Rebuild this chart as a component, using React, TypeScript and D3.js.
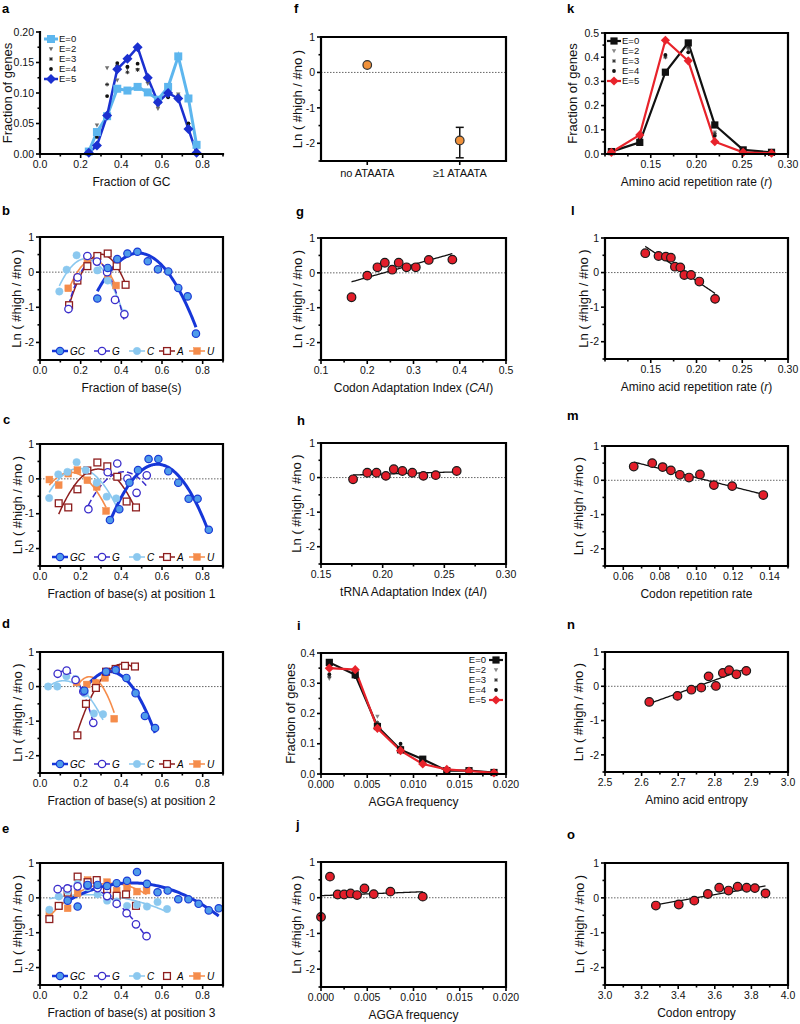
import React from "react";
import * as d3 from "d3";

const FONT = "'Liberation Sans', Arial, Helvetica, sans-serif";

// ---------------- data: panel a ----------------
const aGC = [0.24, 0.28, 0.33, 0.38, 0.43, 0.48, 0.53, 0.58, 0.63, 0.68, 0.73, 0.77];
const aE0 = [0.004, 0.036, 0.062, 0.107, 0.104, 0.11, 0.101, 0.089, 0.11, 0.16, 0.091, 0.015];
const aE2 = [0.006, 0.047, 0.141, 0.121, 0.14, 0.138, 0.115, 0.074, 0.095, 0.098, 0.048, 0.004];
const aE3 = [0.004, 0.035, 0.114, 0.145, 0.134, 0.138, 0.12, 0.08, 0.097, 0.095, 0.045, 0.003];
const aE4 = [0.003, 0.028, 0.095, 0.149, 0.143, 0.148, 0.125, 0.085, 0.093, 0.095, 0.05, 0.002];
const aE5 = [0.002, 0.014, 0.063, 0.139, 0.156, 0.175, 0.125, 0.085, 0.1, 0.091, 0.041, 0.002];

// ---------------- data: panel b ----------------
const bGCx = [0.282, 0.333, 0.38, 0.43, 0.479, 0.53, 0.58, 0.631, 0.68, 0.726, 0.767];
const bGCy = [-0.75, 0.12, 0.37, 0.53, 0.58, 0.31, 0.08, 0.02, -0.45, -0.69, -1.75];
const bGx = [0.14, 0.185, 0.233, 0.28, 0.33, 0.369, 0.415];
const bGy = [-1.05, -0.15, 0.46, 0.3, 0.0, -0.79, -1.2];
const bCx = [0.095, 0.131, 0.18, 0.233, 0.282, 0.333, 0.415];
const bCy = [-0.55, 0.07, 0.48, 0.45, 0.05, -0.24, -1.17];
const bAx = [0.143, 0.184, 0.233, 0.282, 0.333, 0.377, 0.421];
const bAy = [-0.94, -0.24, 0.17, 0.46, 0.53, 0.17, -0.36];
const bUx = [0.139, 0.184, 0.233, 0.282, 0.333, 0.374];
const bUy = [-0.46, -0.15, 0.36, 0.43, -0.07, -0.38];

// ---------------- data: panel c ----------------
const cGCx = [0.344, 0.39, 0.44, 0.482, 0.534, 0.582, 0.631, 0.68, 0.731, 0.775, 0.83];
const cGCy = [-1.18, -0.87, -0.11, 0.25, 0.57, 0.57, 0.22, -0.11, -0.57, -0.57, -1.46];
const cGx = [0.238, 0.333, 0.38, 0.43, 0.475, 0.525];
const cGy = [-0.87, 0.19, 0.44, 0.01, -0.4, 0.1];
const cCx = [0.045, 0.09, 0.135, 0.18, 0.225, 0.279, 0.328, 0.375];
const cCy = [-0.55, 0.13, 0.2, 0.48, 0.25, -0.11, -0.51, -0.56];
const cAx = [0.092, 0.139, 0.184, 0.233, 0.282, 0.331, 0.38, 0.426, 0.472];
const cAy = [-0.7, -0.82, -0.3, 0.24, 0.47, 0.36, 0.06, -0.65, -0.82];
const cUx = [0.046, 0.092, 0.139, 0.184, 0.233, 0.279, 0.325];
const cUy = [-0.02, -0.18, 0.15, 0.25, -0.04, -0.23, -0.92];

// ---------------- data: panel d ----------------
const dGCx = [0.218, 0.325, 0.372, 0.425, 0.47, 0.516, 0.566];
const dGCy = [-0.12, 0.43, 0.48, 0.25, -0.19, -0.85, -1.2];
const dGx = [0.087, 0.131, 0.175, 0.213, 0.262];
const dGy = [0.37, 0.46, 0.19, -0.14, -1.05];
const dCx = [0.04, 0.085, 0.13, 0.175, 0.22, 0.265, 0.31];
const dCy = [0.0, 0.0, 0.3, 0.22, -0.2, -0.78, -0.8];
const dAx = [0.184, 0.226, 0.275, 0.325, 0.372, 0.418, 0.467];
const dAy = [-1.41, -0.5, -0.04, 0.43, 0.51, 0.6, 0.58];
const dUx = [0.18, 0.23, 0.275, 0.32, 0.365];
const dUy = [0.12, 0.06, 0.1, 0.25, -0.93];

// ---------------- data: panel e ----------------
const eGCx = [0.136, 0.185, 0.234, 0.283, 0.33, 0.377, 0.428, 0.477, 0.526, 0.578, 0.628, 0.68, 0.73, 0.78, 0.83, 0.879];
const eGCy = [-0.08, -0.25, 0.37, 0.37, 0.34, 0.42, 0.49, 0.74, 0.4, 0.16, 0.21, -0.04, -0.04, -0.17, -0.36, -0.3];
const eGx = [0.087, 0.135, 0.185, 0.234, 0.283, 0.33, 0.377, 0.426, 0.472, 0.524];
const eGy = [0.25, 0.27, 0.33, 0.35, 0.28, 0.05, -0.17, -0.44, -0.76, -1.1];
const eCx = [0.046, 0.092, 0.136, 0.185, 0.234, 0.283, 0.33, 0.377, 0.428, 0.477, 0.526, 0.578, 0.625];
const eCy = [-0.34, 0.04, 0.2, 0.4, 0.3, 0.1, -0.08, -0.1, -0.23, -0.2, -0.25, -0.12, -0.32];
const eAx = [0.046, 0.092, 0.136, 0.185, 0.234, 0.279, 0.33, 0.377, 0.423, 0.472];
const eAy = [-0.61, -0.23, 0.15, 0.61, 0.45, 0.51, 0.25, 0.06, 0.1, -0.23];
const eUx = [0.046, 0.092, 0.136, 0.185, 0.234, 0.279, 0.33, 0.377, 0.428, 0.477, 0.524];
const eUy = [-0.49, -0.23, -0.3, 0.13, 0.51, 0.49, 0.45, 0.21, 0.3, 0.18, 0.21];

// ---------------- data: panel f ----------------
const fCats = ["no ATAATA", "\u22651 ATAATA"];
const fVals = [0.21, -1.92];
const fLow = [0.19, -2.41];
const fHigh = [0.23, -1.55];

// ---------------- data: panels g, h ----------------
const gX = [0.166, 0.2, 0.222, 0.238, 0.254, 0.268, 0.285, 0.305, 0.333, 0.384];
const gY = [-0.7, -0.08, 0.16, 0.29, 0.09, 0.29, 0.16, 0.16, 0.37, 0.38];
const hX = [0.176, 0.1875, 0.195, 0.2026, 0.209, 0.216, 0.224, 0.233, 0.243, 0.26];
const hY = [-0.05, 0.14, 0.14, 0.05, 0.24, 0.19, 0.14, 0.05, 0.07, 0.19];

// ---------------- data: panel i ----------------
const iX = [0.0009, 0.0037, 0.0061, 0.0086, 0.011, 0.0136, 0.016, 0.0187];
const iE0 = [0.369, 0.328, 0.157, 0.08, 0.049, 0.011, 0.011, 0.005];
const iE2 = [0.315, 0.33, 0.19, 0.085, 0.04, 0.01, 0.01, 0.005];
const iE3 = [0.322, 0.33, 0.17, 0.09, 0.045, 0.012, 0.01, 0.005];
const iE4 = [0.33, 0.32, 0.16, 0.1, 0.05, 0.012, 0.01, 0.005];
const iE5 = [0.35, 0.345, 0.151, 0.077, 0.033, 0.015, 0.01, 0.004];

// ---------------- data: panel j ----------------
const jX = [0.0, 0.00097, 0.0018, 0.0025, 0.0032, 0.0039, 0.0047, 0.0057, 0.0075, 0.011];
const jY = [-0.54, 0.59, 0.09, 0.09, 0.12, 0.075, 0.26, 0.1, 0.17, 0.03];

// ---------------- data: panel k ----------------
const kX = [0.107, 0.138, 0.166, 0.191, 0.22, 0.251, 0.282];
const kE0 = [0.01, 0.048, 0.338, 0.459, 0.12, 0.017, 0.007];
const kE2 = [0.008, 0.045, 0.4, 0.43, 0.09, 0.012, 0.005];
const kE3 = [0.007, 0.06, 0.4, 0.44, 0.085, 0.01, 0.005];
const kE4 = [0.007, 0.065, 0.41, 0.42, 0.075, 0.01, 0.005];
const kE5 = [0.007, 0.079, 0.47, 0.385, 0.051, 0.007, 0.003];

// ---------------- data: panels l - o ----------------
const lX = [0.144, 0.1585, 0.1665, 0.172, 0.1764, 0.1823, 0.1867, 0.194, 0.2031, 0.2203];
const lY = [0.56, 0.48, 0.46, 0.43, 0.17, 0.15, -0.07, -0.07, -0.26, -0.76];
const mX = [0.0657, 0.0758, 0.0815, 0.086, 0.0909, 0.0959, 0.1019, 0.1095, 0.1195, 0.1365];
const mY = [0.4, 0.5, 0.385, 0.29, 0.16, 0.08, 0.17, -0.14, -0.17, -0.43];
const nX = [2.621, 2.698, 2.736, 2.763, 2.783, 2.803, 2.822, 2.839, 2.859, 2.886];
const nY = [-0.456, -0.28, -0.1, -0.04, 0.29, 0.01, 0.39, 0.47, 0.35, 0.45];
const oX = [3.278, 3.403, 3.488, 3.562, 3.624, 3.675, 3.725, 3.774, 3.819, 3.877];
const oY = [-0.22, -0.19, -0.08, 0.11, 0.29, 0.21, 0.32, 0.29, 0.28, 0.13];

// ---------------- ticks ----------------
const baseTicks = [0, 0.2, 0.4, 0.6, 0.8];
const baseMinor = [0.1, 0.3, 0.5, 0.7, 0.9];
const aYTicks = [0, 0.05, 0.1, 0.15, 0.2];
const aYMinor = [0.025, 0.075, 0.125, 0.175];
const lnTicks = [-2, -1, 0, 1];
const lnMinor = [-2.5, -1.5, -0.5, 0.5];
const gTicks = [0.1, 0.2, 0.3, 0.4, 0.5];
const gMinor = [0.15, 0.25, 0.35, 0.45];
const hTicks = [0.15, 0.2, 0.25, 0.3];
const hMinor = [0.175, 0.225, 0.275];
const ijTicks = [0, 0.005, 0.01, 0.015, 0.02];
const ijMinor = [0.0025, 0.0075, 0.0125, 0.0175];
const iYTicks = [0, 0.1, 0.2, 0.3, 0.4];
const iYMinor = [0.05, 0.15, 0.25, 0.35];
const kTicks = [0.15, 0.2, 0.25, 0.3];
const kMinor = [0.1, 0.125, 0.175, 0.225, 0.275];
const kYTicks = [0, 0.1, 0.2, 0.3, 0.4, 0.5];
const kYMinor = [0.05, 0.15, 0.25, 0.35, 0.45];
const mTicks = [0.06, 0.08, 0.1, 0.12, 0.14];
const mMinor = [0.05, 0.07, 0.09, 0.11, 0.13, 0.15];
const nTicks = [2.5, 2.6, 2.7, 2.8, 2.9, 3.0];
const nMinor = [2.55, 2.65, 2.75, 2.85, 2.95];
const oTicks = [3.0, 3.2, 3.4, 3.6, 3.8, 4.0];
const oMinor = [3.1, 3.3, 3.5, 3.7, 3.9];
const eLabels = ["E=0", "E=2", "E=3", "E=4", "E=5"];

// ---------------- layout ----------------
const COL_L: [number, number] = [40, 223];
const COL_M: [number, number] = [321, 506];
const COL_R: [number, number] = [605, 788];

const f1 = d3.format(".1f");
const f2 = d3.format(".2f");
const f3 = d3.format(".3f");
const fInt = (v: number) => String(v);

// ---------------- fitting ----------------
function solve3(A: number[][], b: number[]) {
  const M = A.map((r, i) => [...r, b[i]]);
  for (let c = 0; c < 3; c++) {
    let p = c;
    for (let r = c + 1; r < 3; r++) if (Math.abs(M[r][c]) > Math.abs(M[p][c])) p = r;
    [M[c], M[p]] = [M[p], M[c]];
    for (let r = 0; r < 3; r++) {
      if (r === c) continue;
      const f = M[r][c] / M[c][c];
      for (let k = c; k < 4; k++) M[r][k] -= f * M[c][k];
    }
  }
  return [M[0][3] / M[0][0], M[1][3] / M[1][1], M[2][3] / M[2][2]];
}
function quadFit(xs: number[], ys: number[]) {
  const mx = d3.mean(xs) as number;
  const u = xs.map((v) => v - mx);
  const S = [0, 1, 2, 3, 4].map((k) => d3.sum(u, (v) => v ** k));
  const T = [0, 1, 2].map((k) => d3.sum(u.map((v, i) => v ** k * ys[i])));
  const c = solve3(
    [
      [S[0], S[1], S[2]],
      [S[1], S[2], S[3]],
      [S[2], S[3], S[4]],
    ],
    T
  );
  return (x: number) => {
    const v = x - mx;
    return c[0] + c[1] * v + c[2] * v * v;
  };
}
function linFit(xs: number[], ys: number[]) {
  const mx = d3.mean(xs) as number;
  const my = d3.mean(ys) as number;
  const sxy = d3.sum(xs.map((v, i) => (v - mx) * (ys[i] - my)));
  const sxx = d3.sum(xs.map((v) => (v - mx) ** 2));
  const b = sxy / sxx;
  return (x: number) => my + b * (x - mx);
}
function fitPath(fn: (x: number) => number, xs: number[], x: any, y: any) {
  const [lo, hi] = d3.extent(xs) as [number, number];
  const pts = d3.range(81).map((i) => lo + ((hi - lo) * i) / 80);
  return d3.line<number>().x((v) => x(v)).y((v) => y(fn(v)))(pts) || "";
}

// ---------------- markers ----------------
function Mark(p: { shape: string; cx: number; cy: number; s: number; fill: string; stroke?: string; sw?: number }) {
  const { shape, cx, cy, s, fill } = p;
  const stroke = p.stroke || "none";
  const sw = p.sw || 0;
  if (shape === "circle") return <circle cx={cx} cy={cy} r={s} fill={fill} stroke={stroke} strokeWidth={sw} />;
  if (shape === "square")
    return <rect x={cx - s} y={cy - s} width={2 * s} height={2 * s} fill={fill} stroke={stroke} strokeWidth={sw} />;
  if (shape === "diamond")
    return (
      <path
        d={`M${cx},${cy - s}L${cx + s},${cy}L${cx},${cy + s}L${cx - s},${cy}Z`}
        fill={fill}
        stroke={stroke}
        strokeWidth={sw}
      />
    );
  if (shape === "tri")
    return <path d={`M${cx - s},${cy - s * 0.8}L${cx + s},${cy - s * 0.8}L${cx},${cy + s}Z`} fill={fill} />;
  if (shape === "plus")
    return (
      <path
        d={`M${cx - s},${cy}H${cx + s}M${cx},${cy - s}V${cy + s}M${cx - s * 0.7},${cy - s * 0.7}L${cx + s * 0.7},${cy + s * 0.7}M${cx - s * 0.7},${cy + s * 0.7}L${cx + s * 0.7},${cy - s * 0.7}`}
        stroke={fill}
        strokeWidth={0.9}
      />
    );
  return null;
}

// ---------------- panel frame ----------------
type PanelProps = {
  x0: number;
  x1: number;
  y0: number;
  y1: number;
  xDomain?: [number, number];
  yDomain: [number, number];
  xCats?: string[];
  xTicks?: number[];
  xMinor?: number[];
  xFmt?: (v: number) => string;
  yTicks: number[];
  yMinor: number[];
  yFmt: (v: number) => string;
  box?: boolean;
  zero?: boolean;
  xLabel: React.ReactNode;
  yLabel: string;
  yLabelX: number;
  letter: string;
  lx: number;
  ly: number;
  children: (x: any, y: any) => React.ReactNode;
};

function Panel(p: PanelProps) {
  const { x0, x1, y0, y1 } = p;
  const x: any = p.xCats
    ? d3.scalePoint<string>().domain(p.xCats).range([x0, x1]).padding(0.5)
    : d3.scaleLinear().domain(p.xDomain as [number, number]).range([x0, x1]);
  const y = d3.scaleLinear().domain(p.yDomain).range([y1, y0]);
  const axisPath = p.box === false ? `M${x0},${y0}V${y1}H${x1}` : `M${x0},${y1}V${y0}H${x1}V${y1}Z`;
  const xTickVals: any[] = p.xCats ? p.xCats : p.xTicks || [];
  return (
    <g>
      <text x={p.lx} y={p.ly} fontSize={13} fontWeight="bold" fontFamily={FONT}>
        {p.letter}
      </text>
      {p.zero && (
        <line x1={x0} x2={x1} y1={y(0)} y2={y(0)} stroke="#555" strokeWidth={0.9} strokeDasharray="1.5,1.5" />
      )}
      <g>{p.children(x, y)}</g>
      <path d={axisPath} fill="none" stroke="#000" strokeWidth={2.2} strokeLinecap="square" />
      <g stroke="#000" strokeWidth={1.6}>
        {xTickVals.map((t, i) => (
          <line key={"xt" + i} x1={x(t)} x2={x(t)} y1={y1} y2={y1 + 4} />
        ))}
        {(p.xMinor || []).map((t, i) => (
          <line key={"xm" + i} x1={x(t)} x2={x(t)} y1={y1} y2={y1 + 2.5} />
        ))}
        {p.yTicks.map((t, i) => (
          <line key={"yt" + i} x1={x0 - 4} x2={x0} y1={y(t)} y2={y(t)} />
        ))}
        {p.yMinor.map((t, i) => (
          <line key={"ym" + i} x1={x0 - 2.5} x2={x0} y1={y(t)} y2={y(t)} />
        ))}
      </g>
      <g fontFamily={FONT} fill="#111">
        {xTickVals.map((t, i) => (
          <text
            key={"xl" + i}
            x={x(t)}
            y={y1 + (p.xCats ? 16 : 14)}
            fontSize={p.xCats ? 11 : 10.5}
            textAnchor="middle"
          >
            {p.xCats ? t : (p.xFmt as any)(t)}
          </text>
        ))}
        {p.yTicks.map((t, i) => (
          <text key={"yl" + i} x={x0 - 6} y={y(t)} dy="0.35em" fontSize={10.5} textAnchor="end">
            {p.yFmt(t)}
          </text>
        ))}
        <text x={(x0 + x1) / 2} y={y1 + 32} fontSize={12} textAnchor="middle">
          {p.xLabel}
        </text>
        <text
          transform={`translate(${p.yLabelX},${(y0 + y1) / 2}) rotate(-90)`}
          fontSize={13}
          textAnchor="middle"
          dy="0.35em"
        >
          {p.yLabel}
        </text>
      </g>
    </g>
  );
}

// ---------------- nucleotide panels ----------------
const nucStyle: Record<string, any> = {
  GC: { shape: "circle", s: 3.7, fill: "#4E9BEA", stroke: "#1B3BD6", sw: 1.2, line: "#1636D8", lw: 3, dash: null },
  G: { shape: "circle", s: 3.7, fill: "#ffffff", stroke: "#3A2DCB", sw: 1.3, line: "#3A2DCB", lw: 1.5, dash: "6,3" },
  C: { shape: "circle", s: 3.7, fill: "#8BC8EF", stroke: "#8BC8EF", sw: 0.5, line: "#8BC8EF", lw: 1.6, dash: null },
  A: { shape: "square", s: 3.4, fill: "#ffffff", stroke: "#8E1E1E", sw: 1.3, line: "#8E1E1E", lw: 1.5, dash: null },
  U: { shape: "square", s: 3.4, fill: "#F58C4B", stroke: "#F58C4B", sw: 0.5, line: "#F58C4B", lw: 1.6, dash: null },
};
const nucOrder = ["U", "A", "C", "G", "GC"];
const legendOrder = ["GC", "G", "C", "A", "U"];
const legendOffsets = [20, 62, 97, 127, 157];

function NucLayer(props: { x: any; y: any; sets: Record<string, [number[], number[]]>; noCurve?: string[]; y1: number; x0: number }) {
  const { x, y, sets, y1, x0 } = props;
  const noCurve = props.noCurve || [];
  const ly = y1 - 9;
  return (
    <g>
      {nucOrder.map((k) =>
        noCurve.includes(k) ? null : (
          <path
            key={"c" + k}
            d={fitPath(quadFit(sets[k][0], sets[k][1]), sets[k][0], x, y)}
            fill="none"
            stroke={nucStyle[k].line}
            strokeWidth={nucStyle[k].lw}
            strokeDasharray={nucStyle[k].dash || undefined}
          />
        )
      )}
      {nucOrder.map((k) => (
        <g key={"p" + k}>
          {sets[k][0].map((v, i) => (
            <Mark key={i} {...nucStyle[k]} cx={x(v)} cy={y(sets[k][1][i])} />
          ))}
        </g>
      ))}
      {legendOrder.map((k, i) => {
        const cx = x0 + legendOffsets[i];
        const st = nucStyle[k];
        return (
          <g key={"lg" + k}>
            {!noCurve.includes(k) && (
              <line x1={cx - 8} x2={cx + 8} y1={ly} y2={ly} stroke={st.line} strokeWidth={k === "GC" ? 2.5 : 1.5} />
            )}
            <Mark {...st} cx={cx} cy={ly} />
            <text x={cx + 10} y={ly} dy="0.35em" fontSize={10} fontStyle="italic" fontFamily={FONT}>
              {k}
            </text>
          </g>
        );
      })}
    </g>
  );
}

// ---------------- distribution layers ----------------
function DistLayer(props: {
  x: any;
  y: any;
  xs: number[];
  series: number[][];
  styles: any[];
  legend: { x: number; y: number; anchor: "start" | "end" };
}) {
  const { x, y, xs, series, styles, legend } = props;
  const line = (vals: number[]) => d3.line<number>().x((_, i) => x(xs[i])).y((v) => y(v))(vals) || "";
  const drawOrder = [1, 2, 3, 0, 4];
  return (
    <g>
      {drawOrder.map((si) =>
        styles[si].line ? (
          <path key={"l" + si} d={line(series[si])} fill="none" stroke={styles[si].line} strokeWidth={styles[si].lw} />
        ) : null
      )}
      {drawOrder.map((si) => (
        <g key={"m" + si}>
          {series[si].map((v, i) => (
            <Mark key={i} {...styles[si]} cx={x(xs[i])} cy={y(v)} />
          ))}
        </g>
      ))}
      {eLabels.map((lab, i) => {
        const ly = legend.y + i * 10;
        const st = styles[i];
        const mx = legend.anchor === "start" ? legend.x : legend.x + 10;
        const tx = legend.anchor === "start" ? legend.x + 8 : legend.x;
        return (
          <g key={"lg" + i}>
            {st.line && <line x1={mx - 7} x2={mx + 7} y1={ly} y2={ly} stroke={st.line} strokeWidth={st.lw} />}
            <Mark {...st} cx={mx} cy={ly} />
            <text
              x={tx}
              y={ly}
              dy="0.35em"
              fontSize={9.5}
              fontFamily={FONT}
              textAnchor={legend.anchor}
              fill="#111"
            >
              {lab}
            </text>
          </g>
        );
      })}
    </g>
  );
}

const aStyles = [
  { shape: "square", s: 4, fill: "#5DB6EE", line: "#5DB6EE", lw: 3 },
  { shape: "tri", s: 2.2, fill: "#6f6f6f" },
  { shape: "plus", s: 2, fill: "#222" },
  { shape: "circle", s: 1.9, fill: "#111" },
  { shape: "diamond", s: 5, fill: "#1B30D0", line: "#1B30D0", lw: 2.5 },
];
const ikStyles = [
  { shape: "square", s: 3.6, fill: "#111", line: "#111", lw: 2.2 },
  { shape: "tri", s: 2.2, fill: "#888" },
  { shape: "plus", s: 2, fill: "#333" },
  { shape: "circle", s: 1.9, fill: "#111" },
  { shape: "diamond", s: 4.6, fill: "#E8232B", line: "#E8232B", lw: 2.2 },
];

// ---------------- red scatter with linear fit ----------------
function RedScatter(props: { x: any; y: any; xs: number[]; ys: number[] }) {
  const { x, y, xs, ys } = props;
  return (
    <g>
      <path d={fitPath(linFit(xs, ys), xs, x, y)} fill="none" stroke="#111" strokeWidth={1.3} />
      {xs.map((v, i) => (
        <circle key={i} cx={x(v)} cy={y(ys[i])} r={4.3} fill="#E31E2A" stroke="#1a1a1a" strokeWidth={1.2} />
      ))}
    </g>
  );
}

const lnLabel = "Ln ( #high / #no )";

export default function App() {
  const L = COL_L,
    M = COL_M,
    R = COL_R;
  return (
    <svg
      width={800}
      height={1024}
      viewBox="0 0 800 1024"
      style={{ position: "absolute", left: 0, top: 0, background: "#fff" }}
      fontFamily={FONT}
    >
      <rect x={0} y={0} width={800} height={1024} fill="#fff" />

      {/* a */}
      <Panel
        x0={L[0]} x1={L[1]} y0={32} y1={154}
        xDomain={[0, 0.9]} yDomain={[0, 0.2]}
        xTicks={baseTicks} xMinor={baseMinor} xFmt={f1}
        yTicks={aYTicks} yMinor={aYMinor} yFmt={f2}
        box={false}
        xLabel="Fraction of GC" yLabel="Fraction of genes" yLabelX={7}
        letter="a" lx={2} ly={13}
      >
        {(x, y) => (
          <DistLayer
            x={x} y={y} xs={aGC}
            series={[aE0, aE2, aE3, aE4, aE5]}
            styles={aStyles}
            legend={{ x: 51, y: 39, anchor: "start" }}
          />
        )}
      </Panel>

      {/* b */}
      <Panel
        x0={L[0]} x1={L[1]} y0={237} y1={360}
        xDomain={[0, 0.9]} yDomain={[-2.5, 1]}
        xTicks={baseTicks} xMinor={baseMinor} xFmt={f1}
        yTicks={lnTicks} yMinor={lnMinor} yFmt={fInt}
        zero xLabel="Fraction of base(s)" yLabel={lnLabel} yLabelX={16}
        letter="b" lx={2} ly={215}
      >
        {(x, y) => (
          <NucLayer
            x={x} y={y} x0={L[0]} y1={360}
            sets={{ GC: [bGCx, bGCy], G: [bGx, bGy], C: [bCx, bCy], A: [bAx, bAy], U: [bUx, bUy] }}
          />
        )}
      </Panel>

      {/* c */}
      <Panel
        x0={L[0]} x1={L[1]} y0={444} y1={566}
        xDomain={[0, 0.9]} yDomain={[-2.5, 1]}
        xTicks={baseTicks} xMinor={baseMinor} xFmt={f1}
        yTicks={lnTicks} yMinor={lnMinor} yFmt={fInt}
        zero xLabel="Fraction of base(s) at position 1" yLabel={lnLabel} yLabelX={17}
        letter="c" lx={3} ly={424}
      >
        {(x, y) => (
          <NucLayer
            x={x} y={y} x0={L[0]} y1={566}
            sets={{ GC: [cGCx, cGCy], G: [cGx, cGy], C: [cCx, cCy], A: [cAx, cAy], U: [cUx, cUy] }}
          />
        )}
      </Panel>

      {/* d */}
      <Panel
        x0={L[0]} x1={L[1]} y0={652} y1={773}
        xDomain={[0, 0.9]} yDomain={[-2.5, 1]}
        xTicks={baseTicks} xMinor={baseMinor} xFmt={f1}
        yTicks={lnTicks} yMinor={lnMinor} yFmt={fInt}
        zero xLabel="Fraction of base(s) at position 2" yLabel={lnLabel} yLabelX={17}
        letter="d" lx={2} ly={628}
      >
        {(x, y) => (
          <NucLayer
            x={x} y={y} x0={L[0]} y1={773}
            sets={{ GC: [dGCx, dGCy], G: [dGx, dGy], C: [dCx, dCy], A: [dAx, dAy], U: [dUx, dUy] }}
          />
        )}
      </Panel>

      {/* e */}
      <Panel
        x0={L[0]} x1={L[1]} y0={863} y1={985}
        xDomain={[0, 0.9]} yDomain={[-2.5, 1]}
        xTicks={baseTicks} xMinor={baseMinor} xFmt={f1}
        yTicks={lnTicks} yMinor={lnMinor} yFmt={fInt}
        zero xLabel="Fraction of base(s) at position 3" yLabel={lnLabel} yLabelX={17}
        letter="e" lx={2} ly={833}
      >
        {(x, y) => (
          <NucLayer
            x={x} y={y} x0={L[0]} y1={985} noCurve={["A"]}
            sets={{ GC: [eGCx, eGCy], G: [eGx, eGy], C: [eCx, eCy], A: [eAx, eAy], U: [eUx, eUy] }}
          />
        )}
      </Panel>

      {/* f */}
      <Panel
        x0={M[0]} x1={M[1]} y0={37} y1={161}
        xCats={fCats} yDomain={[-2.5, 1]}
        yTicks={lnTicks} yMinor={lnMinor} yFmt={fInt}
        zero xLabel="" yLabel={lnLabel} yLabelX={297}
        letter="f" lx={294} ly={13}
      >
        {(x, y) => (
          <g>
            {fCats.map((c, i) => (
              <g key={c} stroke="#111" strokeWidth={1.5}>
                <line x1={x(c)} x2={x(c)} y1={y(fLow[i])} y2={y(fHigh[i])} />
                <line x1={x(c) - 4} x2={x(c) + 4} y1={y(fLow[i])} y2={y(fLow[i])} />
                <line x1={x(c) - 4} x2={x(c) + 4} y1={y(fHigh[i])} y2={y(fHigh[i])} />
              </g>
            ))}
            {fCats.map((c, i) => (
              <circle key={"p" + c} cx={x(c)} cy={y(fVals[i])} r={4.3} fill="#F0913A" stroke="#333" strokeWidth={1.2} />
            ))}
          </g>
        )}
      </Panel>

      {/* g */}
      <Panel
        x0={M[0]} x1={M[1]} y0={238} y1={360}
        xDomain={[0.1, 0.5]} yDomain={[-2.5, 1]}
        xTicks={gTicks} xMinor={gMinor} xFmt={f1}
        yTicks={lnTicks} yMinor={lnMinor} yFmt={fInt}
        zero
        xLabel={<>Codon Adaptation Index (<tspan fontStyle="italic">CAI</tspan>)</>}
        yLabel={lnLabel} yLabelX={297}
        letter="g" lx={296} ly={216}
      >
        {(x, y) => <RedScatter x={x} y={y} xs={gX} ys={gY} />}
      </Panel>

      {/* h */}
      <Panel
        x0={M[0]} x1={M[1]} y0={443} y1={564}
        xDomain={[0.15, 0.3]} yDomain={[-2.5, 1]}
        xTicks={hTicks} xMinor={hMinor} xFmt={f2}
        yTicks={lnTicks} yMinor={lnMinor} yFmt={fInt}
        zero
        xLabel={<>tRNA Adaptation Index (<tspan fontStyle="italic">tAI</tspan>)</>}
        yLabel={lnLabel} yLabelX={296}
        letter="h" lx={297} ly={425}
      >
        {(x, y) => <RedScatter x={x} y={y} xs={hX} ys={hY} />}
      </Panel>

      {/* i */}
      <Panel
        x0={M[0]} x1={M[1]} y0={653} y1={774}
        xDomain={[0, 0.02]} yDomain={[0, 0.4]}
        xTicks={ijTicks} xMinor={ijMinor} xFmt={f3}
        yTicks={iYTicks} yMinor={iYMinor} yFmt={f1}
        xLabel="AGGA frequency" yLabel="Fraction of genes" yLabelX={290}
        letter="i" lx={297} ly={630}
      >
        {(x, y) => (
          <DistLayer
            x={x} y={y} xs={iX}
            series={[iE0, iE2, iE3, iE4, iE5]}
            styles={ikStyles}
            legend={{ x: 486, y: 660, anchor: "end" }}
          />
        )}
      </Panel>

      {/* j */}
      <Panel
        x0={M[0]} x1={M[1]} y0={862} y1={987}
        xDomain={[0, 0.02]} yDomain={[-2.5, 1]}
        xTicks={ijTicks} xMinor={ijMinor} xFmt={f3}
        yTicks={lnTicks} yMinor={lnMinor} yFmt={fInt}
        zero xLabel="AGGA frequency" yLabel={lnLabel} yLabelX={296}
        letter="j" lx={296} ly={829}
      >
        {(x, y) => <RedScatter x={x} y={y} xs={jX} ys={jY} />}
      </Panel>

      {/* k */}
      <Panel
        x0={R[0]} x1={R[1]} y0={33} y1={154}
        xDomain={[0.1, 0.3]} yDomain={[0, 0.5]}
        xTicks={kTicks} xMinor={kMinor} xFmt={f2}
        yTicks={kYTicks} yMinor={kYMinor} yFmt={f1}
        xLabel={<>Amino acid repetition rate (<tspan fontStyle="italic">r</tspan>)</>}
        yLabel="Fraction of genes" yLabelX={572}
        letter="k" lx={567} ly={13}
      >
        {(x, y) => (
          <DistLayer
            x={x} y={y} xs={kX}
            series={[kE0, kE2, kE3, kE4, kE5]}
            styles={ikStyles}
            legend={{ x: 614, y: 41, anchor: "start" }}
          />
        )}
      </Panel>

      {/* l */}
      <Panel
        x0={R[0]} x1={R[1]} y0={238} y1={359}
        xDomain={[0.1, 0.3]} yDomain={[-2.5, 1]}
        xTicks={kTicks} xMinor={kMinor} xFmt={f2}
        yTicks={lnTicks} yMinor={lnMinor} yFmt={fInt}
        zero
        xLabel={<>Amino acid repetition rate (<tspan fontStyle="italic">r</tspan>)</>}
        yLabel={lnLabel} yLabelX={583}
        letter="l" lx={571} ly={215}
      >
        {(x, y) => <RedScatter x={x} y={y} xs={lX} ys={lY} />}
      </Panel>

      {/* m */}
      <Panel
        x0={R[0]} x1={R[1]} y0={446} y1={566}
        xDomain={[0.05, 0.15]} yDomain={[-2.5, 1]}
        xTicks={mTicks} xMinor={mMinor} xFmt={f2}
        yTicks={lnTicks} yMinor={lnMinor} yFmt={fInt}
        zero xLabel="Codon repetition rate" yLabel={lnLabel} yLabelX={578}
        letter="m" lx={567} ly={420}
      >
        {(x, y) => <RedScatter x={x} y={y} xs={mX} ys={mY} />}
      </Panel>

      {/* n */}
      <Panel
        x0={R[0]} x1={R[1]} y0={652} y1={772}
        xDomain={[2.5, 3.0]} yDomain={[-2.5, 1]}
        xTicks={nTicks} xMinor={nMinor} xFmt={f1}
        yTicks={lnTicks} yMinor={lnMinor} yFmt={fInt}
        zero xLabel="Amino acid entropy" yLabel={lnLabel} yLabelX={578}
        letter="n" lx={567} ly={629}
      >
        {(x, y) => <RedScatter x={x} y={y} xs={nX} ys={nY} />}
      </Panel>

      {/* o */}
      <Panel
        x0={R[0]} x1={R[1]} y0={863} y1={985}
        xDomain={[3.0, 4.0]} yDomain={[-2.5, 1]}
        xTicks={oTicks} xMinor={oMinor} xFmt={f1}
        yTicks={lnTicks} yMinor={lnMinor} yFmt={fInt}
        zero xLabel="Codon entropy" yLabel={lnLabel} yLabelX={579}
        letter="o" lx={567} ly={839}
      >
        {(x, y) => <RedScatter x={x} y={y} xs={oX} ys={oY} />}
      </Panel>
    </svg>
  );
}
